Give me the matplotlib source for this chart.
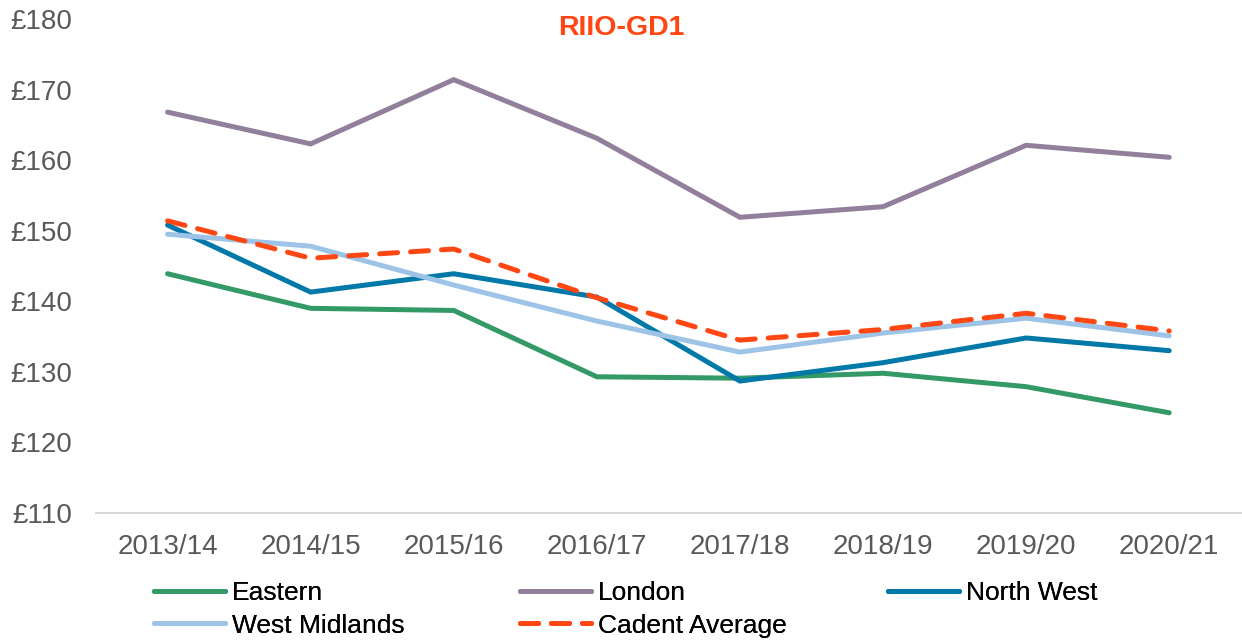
import matplotlib
matplotlib.use('Agg')
import matplotlib.pyplot as plt
from matplotlib.lines import Line2D

years = ['2013/14', '2014/15', '2015/16', '2016/17', '2017/18', '2018/19', '2019/20', '2020/21']
eastern = [143.9, 139.0, 138.7, 129.3, 129.1, 129.8, 127.9, 124.2]
london = [166.8, 162.3, 171.4, 163.1, 151.9, 153.4, 162.1, 160.4]
north_west = [150.8, 141.3, 143.9, 140.6, 128.7, 131.3, 134.8, 133.0]
west_midlands = [149.5, 147.8, 142.3, 137.2, 132.8, 135.5, 137.6, 135.1]
cadent_avg = [151.4, 146.1, 147.4, 140.5, 134.5, 136.0, 138.3, 135.8]
y_ticks = [110, 120, 130, 140, 150, 160, 170, 180]

plt.rcParams['font.family'] = ['Liberation Sans', 'DejaVu Sans']

fig = plt.figure(figsize=(12.42, 6.41), dpi=100)
ax = fig.add_axes([0.0773, 0.1997, 0.9217, 0.7707])

x = range(len(years))
lw = 3.6
series = [
    ('Eastern', eastern, '#339966', '-'),
    ('London', london, '#917F9C', '-'),
    ('North West', north_west, '#0079A8', '-'),
    ('West Midlands', west_midlands, '#9DC3E6', '-'),
    ('Cadent Average', cadent_avg, '#FF4713', '--'),
]
handles = {}
for name, vals, col, ls in series:
    line, = ax.plot(x, vals, color=col, lw=lw, ls=ls, solid_capstyle='round',
                    dash_capstyle='round', solid_joinstyle='miter', label=name)
    if ls == '--':
        line.set_dashes((3.6, 2.6))
    handles[name] = line

ax.set_xlim(-0.5, 7.5)
ax.set_ylim(110, 180)
ax.set_xticks(list(x))
ax.set_xticklabels(years)
ax.set_yticks(y_ticks)
ax.set_yticklabels([f'£{v}' for v in y_ticks])
ax.tick_params(axis='both', length=0, labelsize=20, labelcolor='#595959')
ax.tick_params(axis='y', pad=17)
ax.tick_params(axis='x', pad=15)
for s in ['top', 'right', 'left']:
    ax.spines[s].set_visible(False)
ax.spines['bottom'].set_color('#D9D9D9')
ax.spines['bottom'].set_linewidth(1.5)

fig.text(0.5, 0.956, 'RIIO-GD1', ha='center', va='center', fontsize=20.5,
         fontweight='heavy', color='#FF4713')

# legend in three columns, row-major order like the original
cols = [(['Eastern', 'West Midlands'], 154), (['London', 'Cadent Average'], 520),
        (['North West'], 888)]
for names, px in cols:
    hs = []
    for n in names:
        h = handles[n]
        proxy = Line2D([], [], color=h.get_color(), lw=lw, ls=h.get_linestyle(),
                       solid_capstyle='round', dash_capstyle='round')
        if h.get_linestyle() == '--':
            proxy.set_dashes((3.6, 2.6))
        hs.append(proxy)
    leg = fig.legend(hs, names, loc='upper left',
                     bbox_to_anchor=(px / 1242, 1 - 581 / 641),
                     frameon=False, fontsize=19, handlelength=2.7,
                     handletextpad=0.25, labelspacing=0.33, borderpad=0,
                     borderaxespad=0)
    fig.add_artist(leg)

fig.savefig('out.png', dpi=100)
